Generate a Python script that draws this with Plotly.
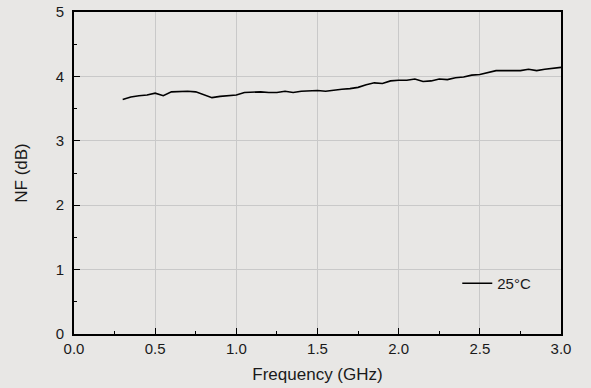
import plotly.graph_objects as go

# Noise figure measured at 25 °C
freq_ghz = [0.30, 0.35, 0.40, 0.45, 0.50, 0.55, 0.60, 0.65, 0.70, 0.75,
            0.80, 0.85, 0.90, 0.95, 1.00, 1.05, 1.10, 1.15, 1.20, 1.25,
            1.30, 1.35, 1.40, 1.45, 1.50, 1.55, 1.60, 1.65, 1.70, 1.75,
            1.80, 1.85, 1.90, 1.95, 2.00, 2.05, 2.10, 2.15, 2.20, 2.25,
            2.30, 2.35, 2.40, 2.45, 2.50, 2.55, 2.60, 2.65, 2.70, 2.75,
            2.80, 2.85, 2.90, 2.95, 3.00]
nf_db = [3.64, 3.68, 3.70, 3.71, 3.74, 3.70, 3.76, 3.77, 3.77, 3.76,
         3.71, 3.67, 3.69, 3.70, 3.71, 3.75, 3.76, 3.76, 3.75, 3.75,
         3.77, 3.75, 3.77, 3.78, 3.78, 3.77, 3.79, 3.80, 3.81, 3.83,
         3.87, 3.90, 3.89, 3.93, 3.94, 3.94, 3.96, 3.92, 3.93, 3.96,
         3.95, 3.98, 3.99, 4.02, 4.03, 4.06, 4.09, 4.09, 4.09, 4.09,
         4.11, 4.09, 4.11, 4.12, 4.14]

bg = "#e8e7e5"
family = "Liberation Sans, Arial, sans-serif"
tick_font = dict(family=family, size=15, color="#1a1a1a")
title_font = dict(family=family, size=17, color="#1a1a1a")

fig = go.Figure()
fig.add_trace(go.Scatter(
    x=freq_ghz, y=nf_db, mode="lines", name="25°C",
    line=dict(color="black", width=1.6),
))

axis_common = dict(
    showline=True, linecolor="black", linewidth=1.6, mirror=True,
    ticks="inside", tickcolor="black", tickwidth=1.2, ticklen=6,
    showgrid=True, gridcolor="#c9c9c9", gridwidth=1,
    zeroline=False, tickfont=tick_font, automargin=False,
)

fig.update_xaxes(
    range=[0, 3], dtick=0.5, tick0=0, tickformat=".1f",
    title=dict(text="Frequency (GHz)", font=title_font, standoff=12),
    minor=dict(dtick=0.25, ticks="inside", ticklen=3, tickcolor="black",
               tickwidth=1.2, showgrid=False),
    **axis_common,
)
fig.update_yaxes(
    range=[0, 5], dtick=1, tick0=0, ticklabelstandoff=5,
    title=dict(text="NF (dB)", font=title_font, standoff=24),
    minor=dict(dtick=0.5, ticks="inside", ticklen=3, tickcolor="black",
               tickwidth=1.2, showgrid=False),
    **axis_common,
)

fig.update_layout(
    width=591, height=388,
    margin=dict(l=74, r=30, t=12, b=54),
    paper_bgcolor=bg, plot_bgcolor=bg,
    font=tick_font,
    showlegend=True,
    legend=dict(x=0.787, y=0.157, xanchor="left", yanchor="middle",
                bgcolor="rgba(0,0,0,0)", font=tick_font),
)

fig.write_html("out.html")
